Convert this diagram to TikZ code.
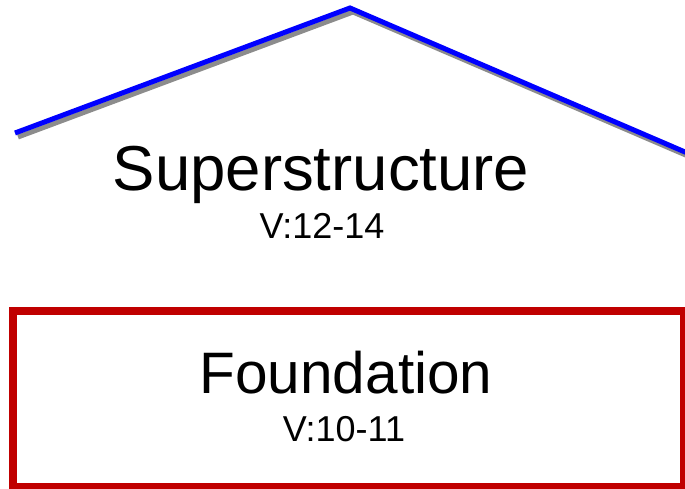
\documentclass[tikz,border=0pt]{standalone}
\usepackage{fontspec}
\setmainfont{Liberation Sans}
\definecolor{roofblue}{HTML}{0000FF}
\definecolor{basered}{HTML}{C00000}
\definecolor{roofshadow}{HTML}{8C8C8C}
\begin{document}
\begin{tikzpicture}[x=1pt,y=-1pt,
roof/.style={line width=5pt, roofblue, line join=miter},
shadow/.style={line width=5pt, roofshadow, line join=miter, transform canvas={xshift=3pt, yshift=-4pt}},
title/.style={anchor=base, inner sep=0pt},
version/.style={anchor=base, inner sep=0pt, font=\fontsize{36}{40}\selectfont}]
\useasboundingbox (0,0) rectangle (685,489);
\coordinate (eaveL) at (15,133);
\coordinate (ridge) at (350,8);
\coordinate (eaveR) at (692,155);
\draw[shadow] (eaveL) -- (ridge) -- (eaveR);
\draw[roof] (eaveL) -- (ridge) -- (eaveR);
\node[title, font=\fontsize{63.5}{70}\selectfont] (super) at (321,191) {Superstructure};
\node[version] (superv) at (322,238) {V:12-14};
\node[draw=basered, line width=8pt, minimum width=671pt, minimum height=176pt, inner sep=0pt] (base) at (348.5,399) {};
\node[title, font=\fontsize{58.5}{64}\selectfont] (found) at (346,393) {Foundation};
\node[version] (foundv) at (344,441) {V:10-11};
\end{tikzpicture}
\end{document}
